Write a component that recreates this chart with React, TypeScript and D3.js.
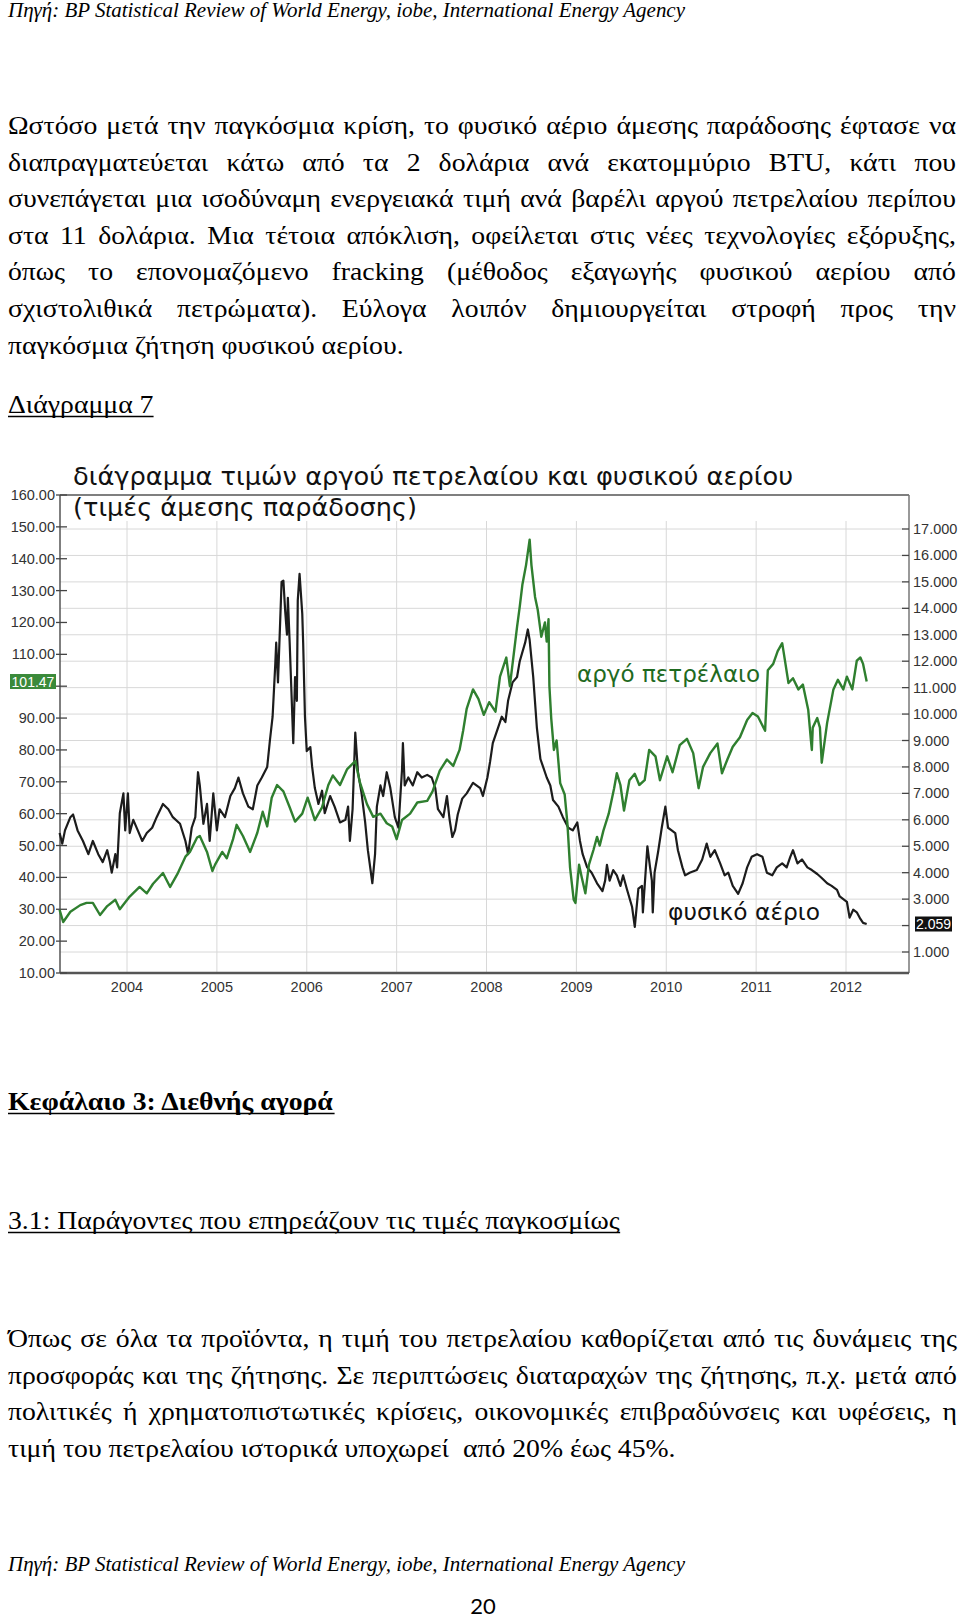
import React, { useMemo } from "react";
import * as d3 from "d3";

// ---------- chart data ----------
const oilYears = [
  2003.25, 2003.29, 2003.37, 2003.48, 2003.55, 2003.62, 2003.7, 2003.78, 2003.87, 2003.92,
  2004.03, 2004.14, 2004.22, 2004.29, 2004.4, 2004.48, 2004.56, 2004.65, 2004.7, 2004.78,
  2004.81, 2004.89, 2004.95, 2004.98, 2005.06, 2005.11, 2005.18, 2005.22, 2005.29, 2005.37,
  2005.45, 2005.51, 2005.56, 2005.61, 2005.67, 2005.74, 2005.81, 2005.87, 2005.95, 2006.01,
  2006.09, 2006.17, 2006.24, 2006.29, 2006.37, 2006.45, 2006.54, 2006.59, 2006.67, 2006.74,
  2006.82, 2006.89, 2006.95, 2007.0, 2007.06, 2007.15, 2007.23, 2007.34, 2007.4, 2007.48,
  2007.56, 2007.63, 2007.7, 2007.74, 2007.78, 2007.85, 2007.91, 2007.97, 2008.03, 2008.1,
  2008.15, 2008.22, 2008.26, 2008.34, 2008.37, 2008.4, 2008.44, 2008.48, 2008.5, 2008.54,
  2008.57, 2008.61, 2008.65, 2008.67, 2008.69, 2008.7, 2008.72, 2008.75, 2008.78, 2008.82,
  2008.87, 2008.9, 2008.93, 2008.97, 2008.99, 2009.03, 2009.06, 2009.1, 2009.14, 2009.19,
  2009.23, 2009.26, 2009.3, 2009.36, 2009.42, 2009.45, 2009.49, 2009.53, 2009.59, 2009.65,
  2009.7, 2009.76, 2009.81, 2009.88, 2009.93, 2010.01, 2010.07, 2010.15, 2010.23, 2010.3,
  2010.36, 2010.41, 2010.49, 2010.57, 2010.62, 2010.68, 2010.74, 2010.82, 2010.9, 2010.96,
  2011.02, 2011.1, 2011.13, 2011.19, 2011.24, 2011.29, 2011.31, 2011.36, 2011.41, 2011.47,
  2011.52, 2011.58, 2011.61, 2011.62, 2011.63, 2011.68, 2011.71, 2011.73, 2011.79, 2011.86,
  2011.91, 2011.97, 2012.01, 2012.07, 2012.12, 2012.16, 2012.19, 2012.23,
];
const oilValues = [
  29.8, 26, 29.2, 31.3, 32, 32, 28.2, 31, 33, 30,
  34, 37, 35, 38, 41.4, 37, 41, 46.5, 48, 52.5,
  53, 48, 42, 44, 48, 46, 52, 56.5, 53, 48,
  54, 60.6, 56, 65, 69, 67, 62, 57.5, 60, 65,
  58, 62, 69, 72, 69, 74, 76.5, 70, 63, 59,
  60, 57, 56, 52, 58, 60, 63.5, 64, 67, 73.5,
  77, 75, 80, 86, 93, 99, 96, 91, 95, 92,
  103, 109, 100, 118.6, 125, 132, 138, 146, 138, 128,
  124, 115.5, 120, 114, 121, 100, 90, 80, 83, 69.6,
  66, 57, 43, 33, 32, 44, 40, 35, 44, 48.6,
  52.7, 50, 54.6, 60, 68, 72.7, 69, 61, 70.5, 72.5,
  69, 70.5, 80, 78, 70.5, 78, 73, 81.5, 83.5, 79,
  68, 74.7, 79, 82, 72.7, 77, 81, 84, 89.4, 91.6,
  90.5, 86, 105, 107, 111, 113.5, 110, 101, 102.5, 99,
  100.5, 92.5, 83, 80, 87, 90, 87, 76, 88.5, 99,
  102, 99, 103, 99, 108, 109, 107, 101.47,
];
const gasYears = [
  2003.25, 2003.28, 2003.31, 2003.37, 2003.4, 2003.45, 2003.51, 2003.57, 2003.62, 2003.68,
  2003.73, 2003.78, 2003.81, 2003.83, 2003.87, 2003.89, 2003.92, 2003.96, 2003.98, 2004.01,
  2004.03, 2004.07, 2004.12, 2004.17, 2004.22, 2004.28, 2004.33, 2004.4, 2004.46, 2004.51,
  2004.59, 2004.65, 2004.68, 2004.72, 2004.76, 2004.79, 2004.81, 2004.85, 2004.89, 2004.92,
  2004.96, 2005.0, 2005.03, 2005.09, 2005.15, 2005.2, 2005.24, 2005.29, 2005.35, 2005.4,
  2005.45, 2005.5, 2005.56, 2005.59, 2005.62, 2005.65, 2005.66, 2005.68, 2005.72, 2005.74,
  2005.76, 2005.78, 2005.79, 2005.81, 2005.85, 2005.87, 2005.89, 2005.9, 2005.92, 2005.95,
  2005.96, 2005.98, 2006.0, 2006.04, 2006.06, 2006.09, 2006.13, 2006.17, 2006.2, 2006.26,
  2006.31, 2006.37, 2006.43, 2006.46, 2006.48, 2006.51, 2006.54, 2006.57, 2006.61, 2006.65,
  2006.68, 2006.7, 2006.73, 2006.76, 2006.78, 2006.82, 2006.85, 2006.89, 2006.93, 2006.98,
  2007.02, 2007.06, 2007.07, 2007.09, 2007.13, 2007.18, 2007.23, 2007.28, 2007.34, 2007.39,
  2007.43, 2007.46, 2007.52, 2007.56, 2007.59, 2007.62, 2007.65, 2007.68, 2007.73, 2007.78,
  2007.85, 2007.93, 2007.96, 2008.01, 2008.04, 2008.07, 2008.13, 2008.17, 2008.21, 2008.24,
  2008.29, 2008.34, 2008.37, 2008.43, 2008.46, 2008.48, 2008.52, 2008.56, 2008.6, 2008.63,
  2008.67, 2008.71, 2008.74, 2008.8, 2008.85, 2008.91, 2008.96, 2009.01, 2009.04, 2009.07,
  2009.12, 2009.17, 2009.23, 2009.29, 2009.32, 2009.34, 2009.37, 2009.41, 2009.45, 2009.49,
  2009.52, 2009.56, 2009.62, 2009.65, 2009.69, 2009.73, 2009.74, 2009.79, 2009.82, 2009.84,
  2009.85, 2009.87, 2009.91, 2009.95, 2009.99, 2010.02, 2010.06, 2010.1, 2010.13, 2010.18,
  2010.21, 2010.26, 2010.34, 2010.4, 2010.45, 2010.49, 2010.54, 2010.6, 2010.65, 2010.69,
  2010.74, 2010.8, 2010.85, 2010.9, 2010.95, 2011.01, 2011.07, 2011.12, 2011.18, 2011.23,
  2011.29, 2011.34, 2011.38, 2011.41, 2011.46, 2011.51, 2011.57, 2011.62, 2011.68, 2011.73,
  2011.79, 2011.84, 2011.9, 2011.93, 2011.97, 2012.01, 2012.04, 2012.08, 2012.12, 2012.16,
  2012.19, 2012.23,
];
const gasValues = [
  5.5, 5.1, 5.6, 6.1, 6.2, 5.6, 5.2, 4.7, 5.2, 4.7,
  4.4, 4.85, 4.4, 4.0, 4.7, 4.2, 6.25, 7.0, 5.6, 7.0,
  5.5, 6.0, 5.6, 5.2, 5.5, 5.7, 6.1, 6.6, 6.4, 6.1,
  5.85, 5.2, 4.7, 5.7, 6.1, 7.8, 7.3, 5.85, 6.6, 5.2,
  7.0, 5.6, 6.4, 6.1, 6.9, 7.2, 7.6, 7.0, 6.5, 6.4,
  7.3, 7.6, 8.0, 9.0, 9.9, 11.9, 12.7, 11.2, 15.0, 15.05,
  13.9, 13.0, 14.4, 12.7, 8.9, 11.4, 10.5, 14.3, 15.3, 13.8,
  12.7, 9.9, 8.6, 8.75, 8.0, 7.2, 6.6, 7.1, 6.25, 6.9,
  6.5, 5.9, 6.0, 6.5, 5.2, 6.4, 9.3, 7.8, 7.0, 5.9,
  4.85, 4.35, 3.6, 4.7, 6.5, 7.3, 6.9, 7.8, 7.2, 6.1,
  5.7, 7.9, 8.9, 7.3, 7.6, 7.3, 7.8, 7.6, 7.7, 7.6,
  7.2, 6.4, 6.1, 6.9, 6.0, 5.35, 5.6, 6.2, 6.8, 7.0,
  7.4, 7.2, 6.9, 7.6, 8.2, 8.9, 9.5, 9.9, 9.7, 10.5,
  11.2, 11.4, 12.0, 12.7, 13.2, 12.8, 11.4, 9.5, 8.3, 8.0,
  7.6, 7.3, 6.75, 6.5, 6.1, 5.7, 5.6, 5.9, 5.2, 4.7,
  4.2, 4.0, 3.6, 3.3, 3.7, 4.3, 3.7, 4.1, 3.9, 3.5,
  3.9, 3.4, 2.7, 1.95, 3.4, 3.5, 2.5, 5.0, 4.2, 3.7,
  2.5, 4.0, 4.8, 5.7, 6.5, 5.7, 5.6, 5.5, 4.85, 4.2,
  3.9, 4.0, 4.1, 4.5, 5.1, 4.6, 4.85, 4.35, 3.9, 4.0,
  3.5, 3.2, 3.6, 4.2, 4.6, 4.7, 4.6, 4.0, 3.9, 4.2,
  4.35, 4.2, 4.6, 4.85, 4.35, 4.5, 4.2, 4.1, 3.95, 3.8,
  3.6, 3.5, 3.35, 3.1, 3.0, 2.9, 2.3, 2.6, 2.5, 2.25,
  2.1, 2.059,
];
const yearTicks = [2004, 2005, 2006, 2007, 2008, 2009, 2010, 2011, 2012];
const oilTicks = [10, 20, 30, 40, 50, 60, 70, 80, 90, 100, 110, 120, 130, 140, 150, 160];
const gasTicks = [1, 2, 3, 4, 5, 6, 7, 8, 9, 10, 11, 12, 13, 14, 15, 16, 17];
const oilLast = 101.47;
const gasLast = 2.059;

// ---------- page text ----------
const sourceText = "Πηγή: BP Statistical Review of World Energy, iobe, International Energy Agency";
const para1 = [
  "Ωστόσο μετά την παγκόσμια κρίση, το φυσικό αέριο άμεσης παράδοσης έφτασε να",
  "διαπραγματεύεται κάτω από τα 2 δολάρια ανά εκατομμύριο BTU, κάτι που",
  "συνεπάγεται μια ισοδύναμη ενεργειακά τιμή ανά βαρέλι αργού πετρελαίου περίπου",
  "στα 11 δολάρια. Μια τέτοια απόκλιση, οφείλεται στις νέες τεχνολογίες εξόρυξης,",
  "όπως το επονομαζόμενο fracking (μέθοδος εξαγωγής φυσικού αερίου από",
  "σχιστολιθικά πετρώματα). Εύλογα λοιπόν δημιουργείται στροφή προς την",
  "παγκόσμια ζήτηση φυσικού αερίου.",
];
const para2 = [
  "Όπως σε όλα τα προϊόντα, η τιμή του πετρελαίου καθορίζεται από τις δυνάμεις της",
  "προσφοράς και της ζήτησης. Σε περιπτώσεις διαταραχών της ζήτησης, π.χ. μετά από",
  "πολιτικές ή χρηματοπιστωτικές κρίσεις, οικονομικές επιβραδύνσεις και υφέσεις, η",
  "τιμή του πετρελαίου ιστορικά υποχωρεί  από 20% έως 45%.",
];
const figLabel = "Διάγραμμα 7";
const chapter = "Κεφάλαιο 3: Διεθνής αγορά";
const section = "3.1: Παράγοντες που επηρεάζουν τις τιμές παγκοσμίως";
const titleLine1 = "διάγραμμα τιμών αργού πετρελαίου και φυσικού αερίου";
const titleLine2 = "(τιμές άμεσης παράδοσης)";
const oilLabel = "αργό πετρέλαιο";
const gasLabel = "φυσικό αέριο";
const pageNo = "20";

const SERIF = '"Liberation Serif", "Times New Roman", serif';
const SANS = '"Liberation Sans", Arial, sans-serif';
const TSANS = '"DejaVu Sans", sans-serif';
const BODY = 25.5;
const SX = 1.088; // horizontal stretch of the scanned page text

let ctx: CanvasRenderingContext2D | null = null;
function tw(s: string, font: string) {
  if (!ctx) ctx = document.createElement("canvas").getContext("2d");
  ctx!.font = font;
  return ctx!.measureText(s).width;
}

function Para({ lines, y0, lh, x0, x1 }: { lines: string[]; y0: number; lh: number; x0: number; x1: number }) {
  const font = `${BODY}px ${SERIF}`;
  const width = (x1 - x0) / SX;
  return (
    <g fontFamily={SERIF} fontSize={BODY} fill="#000" transform={`translate(${x0},0) scale(${SX},1)`}>
      {lines.map((line, li) => {
        const y = y0 + li * lh;
        if (li === lines.length - 1) {
          return (
            <text key={li} x={0} y={y} style={{ whiteSpace: "pre" }}>
              {line}
            </text>
          );
        }
        const words = line.split(" ");
        const widths = words.map((w) => tw(w, font));
        const total = widths.reduce((a, b) => a + b, 0);
        const gap = (width - total) / (words.length - 1);
        let x = 0;
        const xs = widths.map((w) => {
          const cur = x;
          x += w + gap;
          return cur;
        });
        return (
          <text key={li} y={y}>
            {words.map((w, i) => (
              <tspan key={i} x={xs[i]}>
                {w}
              </tspan>
            ))}
          </text>
        );
      })}
    </g>
  );
}

function Underlined({ text, x, y, bold }: { text: string; x: number; y: number; bold?: boolean }) {
  const w = tw(text, `${bold ? "bold " : ""}${BODY}px ${SERIF}`) * SX;
  return (
    <g>
      <g transform={`translate(${x},0) scale(${SX},1)`}>
        <text x={0} y={y} fontFamily={SERIF} fontSize={BODY} fontWeight={bold ? "bold" : "normal"} fill="#000">
          {text}
        </text>
      </g>
      <line x1={x} x2={x + w} y1={y + 3.5} y2={y + 3.5} stroke="#000" strokeWidth={1.6} />
    </g>
  );
}

export default function App() {
  const L = 60, R = 909, T = 495, B = 973;
  const x = d3.scaleLinear().domain([2004, 2012]).range([127, 846]);
  const yOil = d3.scaleLinear().domain([10, 160]).range([B, T]);
  const yGas = d3.scaleLinear().domain([1, 17]).range([952, 529]);

  const oilPath = useMemo(
    () =>
      d3
        .line<number>()
        .x((_, i) => x(oilYears[i]))
        .y((d) => yOil(d))(oilValues) || "",
    []
  );
  const gasPath = useMemo(
    () =>
      d3
        .line<number>()
        .x((_, i) => x(gasYears[i]))
        .y((d) => yGas(d))(gasValues) || "",
    []
  );
  const f2 = d3.format(".2f");
  const f3 = d3.format(".3f");
  // labels hidden behind the last-value badges are not drawn
  const oilLabelTicks = oilTicks.filter((t) => Math.abs(yOil(t) - yOil(oilLast)) > 10);
  const gasLabelTicks = gasTicks.filter((t) => Math.abs(yGas(t) - yGas(gasLast)) > 10);

  return (
    <svg
      width={960}
      height={1621}
      viewBox="0 0 960 1621"
      style={{ position: "absolute", left: 0, top: 0, display: "block", background: "#fff" }}
    >
      <rect x={0} y={0} width={960} height={1621} fill="#fff" />
      {/* header */}
      <text x={8} y={17} fontFamily={SERIF} fontStyle="italic" fontSize={20} textLength={677} lengthAdjust="spacingAndGlyphs">
        {sourceText}
      </text>

      <Para lines={para1} y0={134} lh={36.6} x0={8} x1={956} />
      <Underlined text={figLabel} x={8} y={413} />

      {/* chart */}
      <g>
        {gasTicks.map((t) => (
          <line key={"hg" + t} x1={L} x2={R - 6} y1={yGas(t)} y2={yGas(t)} stroke="#d8d8d8" strokeWidth={1} />
        ))}
        {yearTicks.map((t) => (
          <line key={"vg" + t} x1={x(t)} x2={x(t)} y1={521} y2={B} stroke="#d8d8d8" strokeWidth={1} />
        ))}
        <line x1={L} x2={R} y1={T} y2={T} stroke="#555" strokeWidth={1.5} />
        <line x1={R} x2={R} y1={T} y2={B} stroke="#777" strokeWidth={1.5} />
        <line x1={L} x2={L} y1={T} y2={B} stroke="#555" strokeWidth={1.5} />
        <line x1={L} x2={R} y1={B} y2={B} stroke="#555" strokeWidth={2.5} />

        {oilTicks.map((t) => (
          <line key={"otl" + t} x1={56} x2={67} y1={yOil(t)} y2={yOil(t)} stroke="#444" strokeWidth={1.3} />
        ))}
        {oilLabelTicks.map((t) => (
          <text key={"ot" + t} x={55} y={yOil(t) + 5} textAnchor="end" fontFamily={SANS} fontSize={14.5} fill="#333">
            {f2(t)}
          </text>
        ))}
        {gasTicks.map((t) => (
          <line key={"gtl" + t} x1={902} x2={909} y1={yGas(t)} y2={yGas(t)} stroke="#444" strokeWidth={1.3} />
        ))}
        {gasLabelTicks.map((t) => (
          <text key={"gt" + t} x={913} y={yGas(t) + 5} fontFamily={SANS} fontSize={14.5} fill="#333">
            {f3(t)}
          </text>
        ))}
        {yearTicks.map((t) => (
          <text key={"yl" + t} x={x(t)} y={992} textAnchor="middle" fontFamily={SANS} fontSize={14.5} fill="#333">
            {t}
          </text>
        ))}

        <path d={gasPath} fill="none" stroke="#1c1c1c" strokeWidth={2.2} strokeLinejoin="round" />
        <path d={oilPath} fill="none" stroke="#2f7f2f" strokeWidth={2.4} strokeLinejoin="round" />

        {/* last-value badges */}
        <rect x={10} y={yOil(oilLast) - 7.5} width={46} height={15} fill="#3a8a3a" />
        <text x={33} y={yOil(oilLast) + 5} textAnchor="middle" fontFamily={SANS} fontSize={14} fill="#fff">
          {f2(oilLast)}
        </text>
        <rect x={915} y={yGas(gasLast) - 7.5} width={37} height={15} fill="#111" />
        <text x={933.5} y={yGas(gasLast) + 5} textAnchor="middle" fontFamily={SANS} fontSize={14} fill="#fff">
          {f3(gasLast)}
        </text>

        {/* titles and labels */}
        <text x={73} y={485} fontFamily={TSANS} fontSize={25} fill="#111" textLength={720} lengthAdjust="spacingAndGlyphs">
          {titleLine1}
        </text>
        <text x={73} y={516} fontFamily={TSANS} fontSize={25} fill="#111" textLength={344} lengthAdjust="spacingAndGlyphs">
          {titleLine2}
        </text>
        <text x={577} y={682} fontFamily={TSANS} fontSize={23} fill="#1f6a1f" textLength={183} lengthAdjust="spacingAndGlyphs">
          {oilLabel}
        </text>
        <text x={668} y={920} fontFamily={TSANS} fontSize={23} fill="#111" textLength={152} lengthAdjust="spacingAndGlyphs">
          {gasLabel}
        </text>
      </g>

      <Underlined text={chapter} x={8} y={1110} bold />
      <Underlined text={section} x={8} y={1229} />
      <Para lines={para2} y0={1347} lh={36.7} x0={8} x1={957} />

      <text x={8} y={1571} fontFamily={SERIF} fontStyle="italic" fontSize={20} textLength={677} lengthAdjust="spacingAndGlyphs">
        {sourceText}
      </text>
      <text x={483} y={1614} textAnchor="middle" fontFamily='Lato, "Open Sans", sans-serif' fontSize={22} fill="#000">
        {pageNo}
      </text>
    </svg>
  );
}
